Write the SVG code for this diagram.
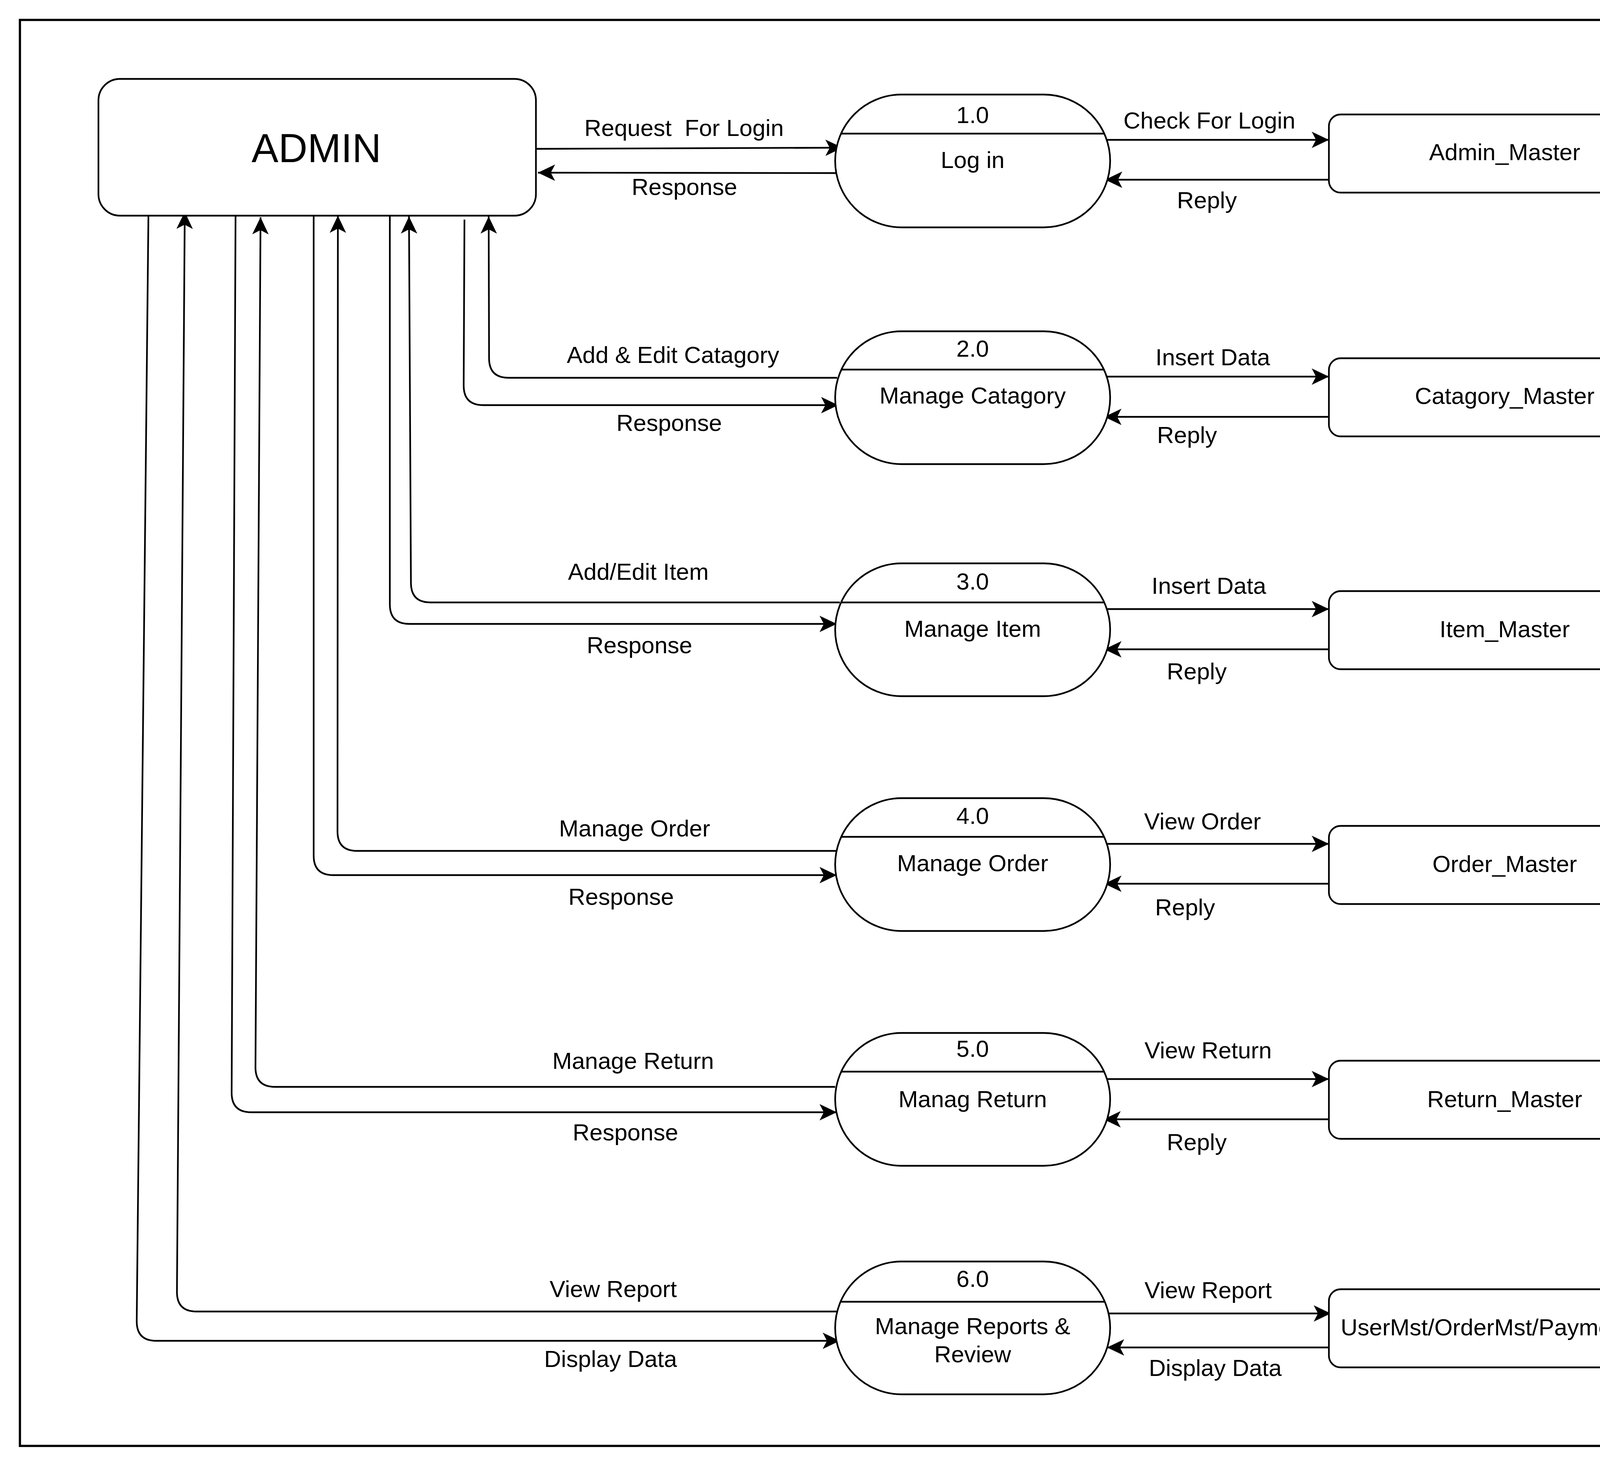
<svg xmlns="http://www.w3.org/2000/svg" width="4460" height="3755" viewBox="0 0 4460 3755">
<style>
.sh{fill:#fff;stroke:#000;stroke-width:4.3}
.dv{fill:none;stroke:#000;stroke-width:4.3}
.ln{fill:none;stroke:#000;stroke-width:4.3;marker-end:url(#arr)}
.pl{fill:none;stroke:#000;stroke-width:4.3}
.t{font-family:"Liberation Sans",Arial,Helvetica,sans-serif;font-size:60px;fill:#000;white-space:pre}
.c{text-anchor:middle}
</style>
<defs>
<marker id="arr" markerUnits="userSpaceOnUse" markerWidth="50" markerHeight="50" viewBox="-47 -25 50 50" refX="0" refY="0" orient="auto">
<path d="M0,0 L-44,-21 L-33,0 L-44,21 Z" fill="#000"/>
</marker>
</defs>
<rect x="0" y="0" width="4460" height="3755" fill="#fff"/>
<rect id="frame" x="51" y="51" width="4351" height="3650" fill="none" stroke="#000" stroke-width="5.7"/>

<g id="connectors">
<!-- Row 1 -->
<path class="ln" d="M1373,381 L2157,378"/>
<path class="ln" d="M2147,443 L1377,442"/>
<path class="ln" d="M2834,358 L3402,358"/>
<path class="ln" d="M3402,460 L2829,460"/>
<!-- Row 2 -->
<path class="ln" d="M2143,967 L1302,967 Q1252,967 1252,917 L1251,554"/>
<path class="ln" d="M1189,562 L1187,987 Q1187,1037 1237,1037 L2146,1037"/>
<path class="ln" d="M2832,964 L3402,964"/>
<path class="ln" d="M3402,1067 L2827,1067"/>
<!-- Row 3 -->
<path class="ln" d="M2150,1542 L1102,1542 Q1052,1542 1052,1492 L1047,554"/>
<path class="ln" d="M998,553 L998,1547 Q998,1597 1048,1597 L2142,1597"/>
<path class="ln" d="M2832,1559 L3402,1559"/>
<path class="ln" d="M3402,1662 L2827,1662"/>
<!-- Row 4 -->
<path class="ln" d="M2152,2178 L914,2178 Q864,2178 864,2128 L865,552"/>
<path class="ln" d="M803,553 L803,2190 Q803,2240 853,2240 L2142,2240"/>
<path class="ln" d="M2832,2160 L3402,2160"/>
<path class="ln" d="M3402,2262 L2827,2262"/>
<!-- Row 5 -->
<path class="ln" d="M2138,2782 L704,2782 Q654,2782 654,2732 L667,556"/>
<path class="ln" d="M603,553 L593,2797 Q593,2847 643,2847 L2142,2847"/>
<path class="ln" d="M2832,2762 L3402,2762"/>
<path class="ln" d="M3402,2865 L2825,2865"/>
<!-- Row 6 -->
<path class="ln" d="M2143,3357 L503,3357 Q453,3357 453,3307 L473,542"/>
<path class="ln" d="M380,548 L350,3382 Q350,3432 400,3432 L2150,3432"/>
<path class="ln" d="M2838,3362 L3407,3362"/>
<path class="ln" d="M3412,3449 L2834,3449"/>

<g id="flow-labels">
<text class="t" x="1496" y="348" xml:space="preserve">Request  For Login</text>
<text class="t" x="1617" y="499">Response</text>
<text class="t" x="2876" y="329">Check For Login</text>
<text class="t" x="3013" y="533">Reply</text>

<text class="t" x="1451" y="929">Add &amp; Edit Catagory</text>
<text class="t" x="1578" y="1103">Response</text>
<text class="t" x="2958" y="935">Insert Data</text>
<text class="t" x="2962" y="1134">Reply</text>

<text class="t" x="1454" y="1484">Add/Edit Item</text>
<text class="t" x="1502" y="1672">Response</text>
<text class="t" x="2948" y="1520">Insert Data</text>
<text class="t" x="2987" y="1739">Reply</text>

<text class="t" x="1431" y="2141">Manage Order</text>
<text class="t" x="1455" y="2316">Response</text>
<text class="t" x="2929" y="2123">View Order</text>
<text class="t" x="2957" y="2343">Reply</text>

<text class="t" x="1414" y="2736">Manage Return</text>
<text class="t" x="1466" y="2919">Response</text>
<text class="t" x="2930" y="2709">View Return</text>
<text class="t" x="2987" y="2944">Reply</text>

<text class="t" x="1407" y="3320">View Report</text>
<text class="t" x="1393" y="3499">Display Data</text>
<text class="t" x="2930" y="3323">View Report</text>
<text class="t" x="2941" y="3522">Display Data</text>
</g>
</g>

<g id="admin">
<rect class="sh" x="252" y="202" width="1120" height="350" rx="55" ry="55"/>
<text class="t c" x="810" y="415" style="font-size:103px">ADMIN</text>
</g>

<g id="p1">
<rect class="sh" x="2138" y="242" width="704" height="340" rx="170" ry="170"/>
<line class="dv" x1="2153" y1="342" x2="2827" y2="342"/>
<text class="t c" x="2490" y="315">1.0</text>
<text class="t c" x="2490" y="430">Log in</text>
</g>
<g id="p2">
<rect class="sh" x="2138" y="848" width="704" height="340" rx="170" ry="170"/>
<line class="dv" x1="2153" y1="946" x2="2827" y2="946"/>
<text class="t c" x="2490" y="913">2.0</text>
<text class="t c" x="2490" y="1033">Manage Catagory</text>
</g>
<g id="p3">
<rect class="sh" x="2138" y="1442" width="704" height="340" rx="170" ry="170"/>
<line class="dv" x1="2153" y1="1542" x2="2827" y2="1542"/>
<text class="t c" x="2490" y="1509">3.0</text>
<text class="t c" x="2490" y="1630">Manage Item</text>
</g>
<g id="p4">
<rect class="sh" x="2138" y="2043" width="704" height="340" rx="170" ry="170"/>
<line class="dv" x1="2153" y1="2142" x2="2827" y2="2142"/>
<text class="t c" x="2490" y="2109">4.0</text>
<text class="t c" x="2490" y="2230">Manage Order</text>
</g>
<g id="p5">
<rect class="sh" x="2138" y="2644" width="704" height="340" rx="170" ry="170"/>
<line class="dv" x1="2153" y1="2743" x2="2827" y2="2743"/>
<text class="t c" x="2490" y="2705">5.0</text>
<text class="t c" x="2490" y="2834">Manag Return</text>
</g>
<g id="p6">
<rect class="sh" x="2138" y="3229" width="704" height="340" rx="170" ry="170"/>
<line class="dv" x1="2152" y1="3332" x2="2828" y2="3332"/>
<text class="t c" x="2490" y="3294">6.0</text>
<text class="t c" x="2490" y="3415">Manage Reports &amp;</text>
<text class="t c" x="2490" y="3487">Review</text>
</g>

<g id="s1">
<rect class="sh" x="3402" y="293" width="901" height="200" rx="30" ry="30"/>
<text class="t c" x="3852" y="410">Admin_Master</text>
</g>
<g id="s2">
<rect class="sh" x="3402" y="917" width="901" height="200" rx="30" ry="30"/>
<text class="t c" x="3852" y="1034">Catagory_Master</text>
</g>
<g id="s3">
<rect class="sh" x="3402" y="1513" width="901" height="200" rx="30" ry="30"/>
<text class="t c" x="3852" y="1631">Item_Master</text>
</g>
<g id="s4">
<rect class="sh" x="3402" y="2114" width="901" height="200" rx="30" ry="30"/>
<text class="t c" x="3852" y="2232">Order_Master</text>
</g>
<g id="s5">
<rect class="sh" x="3402" y="2715" width="901" height="200" rx="30" ry="30"/>
<text class="t c" x="3852" y="2834">Return_Master</text>
</g>
<g id="s6">
<rect class="sh" x="3402" y="3300" width="901" height="200" rx="30" ry="30"/>
<text class="t c" x="3852" y="3418">UserMst/OrderMst/PaymentMst</text>
</g>
</svg>
